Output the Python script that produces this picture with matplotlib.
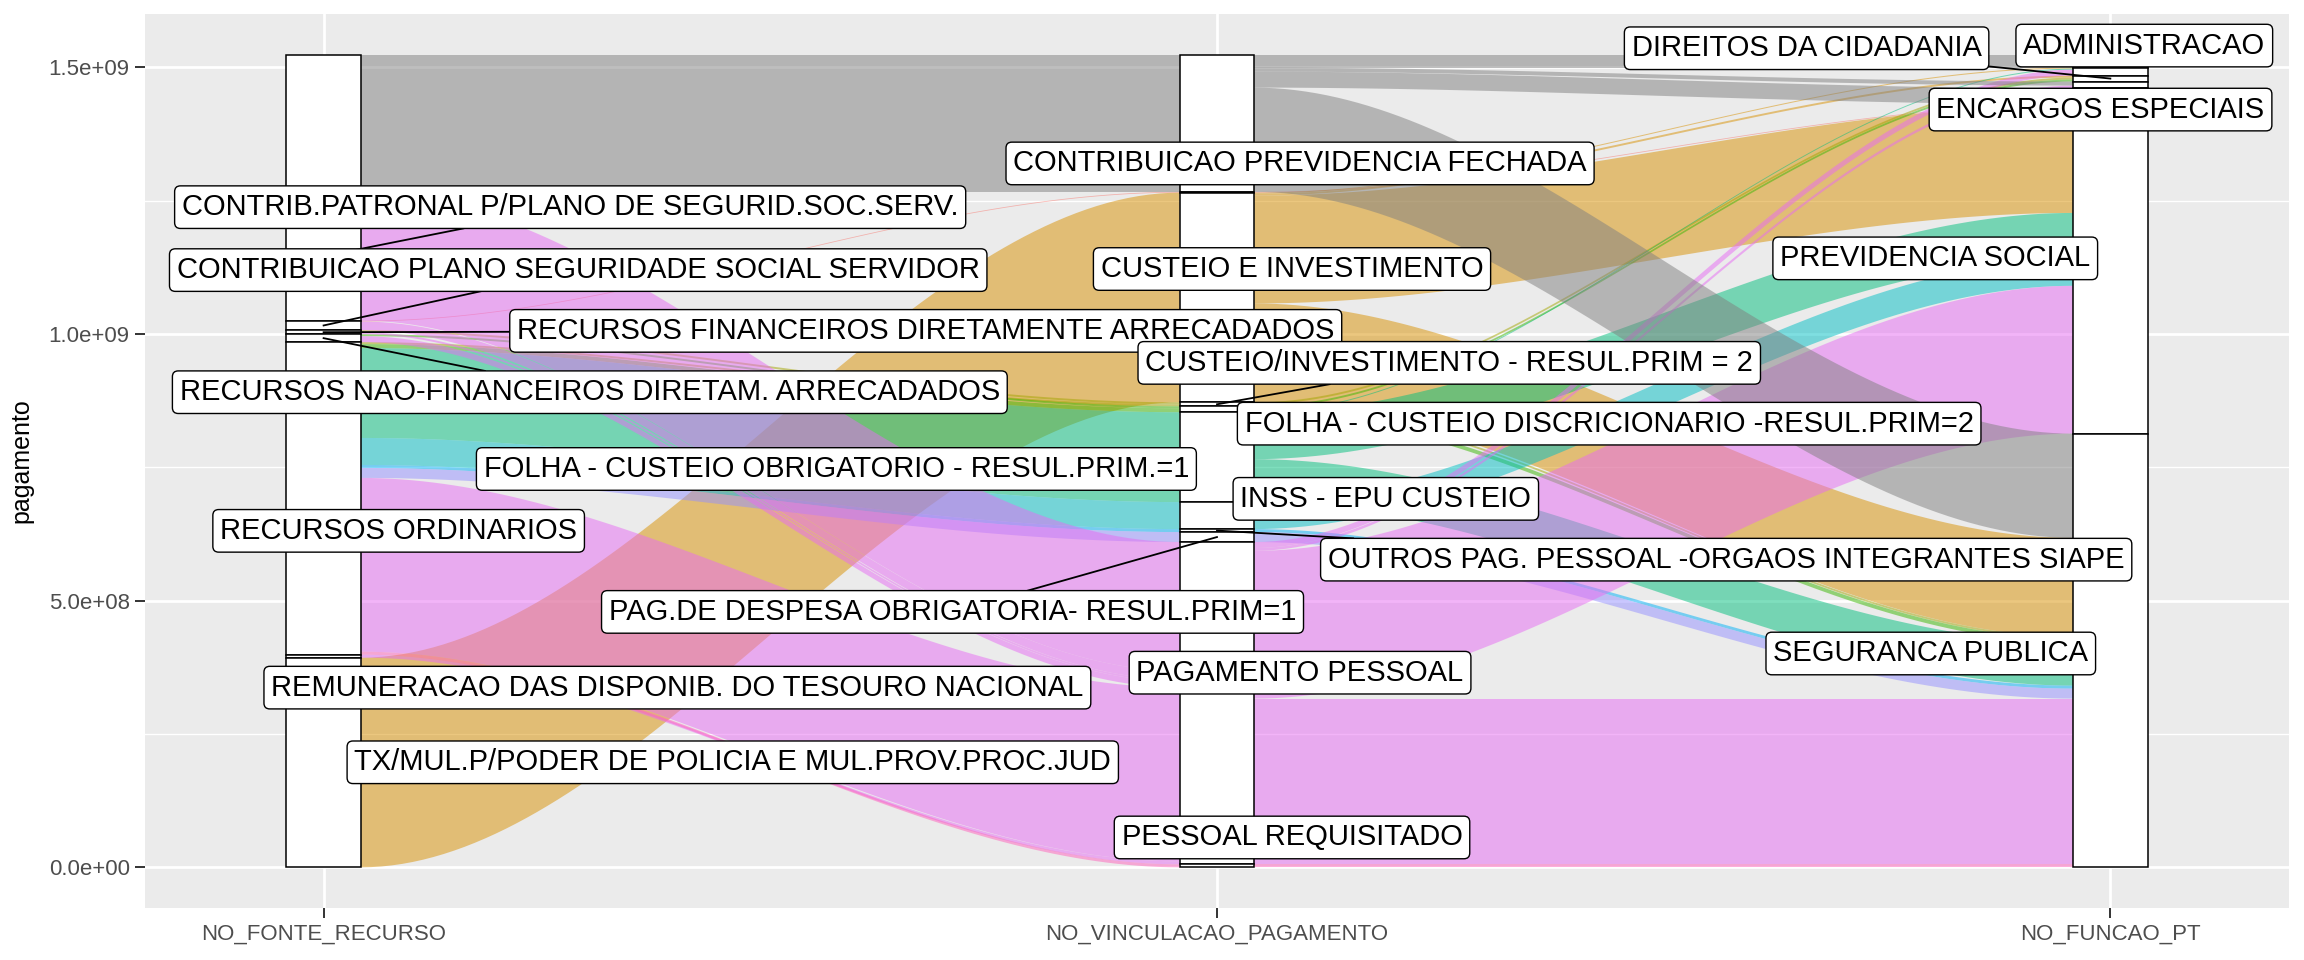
# Alluvial plot of pagamento by fonte / vinculacao / funcao (ggalluvial style)
import numpy as np
import matplotlib.pyplot as plt
from matplotlib.patches import Polygon, Rectangle

plt.rcParams['font.family'] = ['Liberation Sans', 'DejaVu Sans']

axis_names = ['NO_FONTE_RECURSO', 'NO_VINCULACAO_PAGAMENTO', 'NO_FUNCAO_PT']

# strata of each axis, top to bottom ('NA' is the unlabelled stratum)
fonte_levels = ['NA',
                'CONTRIB.PATRONAL P/PLANO DE SEGURID.SOC.SERV.',
                'CONTRIBUICAO PLANO SEGURIDADE SOCIAL SERVIDOR',
                'RECURSOS FINANCEIROS DIRETAMENTE ARRECADADOS',
                'RECURSOS NAO-FINANCEIROS DIRETAM. ARRECADADOS',
                'RECURSOS ORDINARIOS',
                'REMUNERACAO DAS DISPONIB. DO TESOURO NACIONAL',
                'TX/MUL.P/PODER DE POLICIA E MUL.PROV.PROC.JUD']
vinc_levels = ['NA',
               'CONTRIBUICAO PREVIDENCIA FECHADA',
               'CUSTEIO E INVESTIMENTO',
               'CUSTEIO/INVESTIMENTO - RESUL.PRIM = 2',
               'FOLHA - CUSTEIO DISCRICIONARIO -RESUL.PRIM=2',
               'FOLHA - CUSTEIO OBRIGATORIO - RESUL.PRIM.=1',
               'INSS - EPU CUSTEIO',
               'OUTROS PAG. PESSOAL -ORGAOS INTEGRANTES SIAPE',
               'PAG.DE DESPESA OBRIGATORIA- RESUL.PRIM=1',
               'PAGAMENTO PESSOAL',
               'PESSOAL REQUISITADO']
funcao_levels = ['NA', 'ADMINISTRACAO', 'DIREITOS DA CIDADANIA',
                 'ENCARGOS ESPECIAIS', 'PREVIDENCIA SOCIAL', 'SEGURANCA PUBLICA']

# one entry per alluvium (index into the level lists), pagamento in millions
fonte_idx  = [0, 0, 0, 0, 2, 7, 7, 7, 7, 3, 5, 4, 5, 5, 5, 5, 5, 5, 5, 5, 1, 2, 2, 3, 4, 6, 5, 5]
vinc_idx   = [0, 0, 0, 0, 1, 2, 2, 2, 2, 3, 3, 4, 4, 5, 5, 5, 6, 7, 8, 10, 9, 9, 9, 9, 9, 9, 9, 9]
funcao_idx = [0, 3, 4, 5, 4, 1, 2, 4, 5, 2, 5, 2, 5, 1, 4, 5, 4, 5, 5, 5, 4, 1, 3, 5, 5, 5, 4, 5]
pagamento_mi = [24.3, 7.5, 30.0, 195.5, 1.5, 1.9, 3.7, 202.2, 185.4, 3.7, 3.7, 3.7, 7.5, 1.9,
                86.1, 80.5, 50.6, 5.6, 18.7, 5.6, 241.6, 11.2, 5.2, 3.7, 11.2, 5.6, 35.6, 290.3]

# fill follows the vinculacao (NA -> grey)
palette = ['#F8766D', '#D89000', '#A3A500', '#39B600', '#00BF7D',
           '#00BFC4', '#00B0F6', '#9590FF', '#E76BF3', '#FF62BC']
na_color = '#7F7F7F'

# label centres (x in axis units, y in pagamento) -- layout of the repelled labels
label_xy = [
    [None, (1.276, 1.238e9), (1.285, 1.120e9), (1.674, 1.006e9), (1.298, 0.891e9),
     (1.084, 0.631e9), (1.396, 0.337e9), (1.458, 0.197e9)],
    [None, (2.093, 1.320e9), (2.084, 1.122e9), (2.260, 0.946e9), (2.439, 0.832e9),
     (1.574, 0.747e9), (2.189, 0.691e9), (2.570, 0.577e9), (1.704, 0.479e9),
     (2.093, 0.365e9), (2.084, 0.056e9)],
    [None, (3.038, 1.541e9), (2.660, 1.536e9), (2.989, 1.421e9), (2.804, 1.142e9),
     (2.799, 0.401e9)],
]
# labels whose leader segment is long enough to be drawn
leaders = {'CONTRIB.PATRONAL P/PLANO DE SEGURID.SOC.SERV.',
           'CONTRIBUICAO PLANO SEGURIDADE SOCIAL SERVIDOR',
           'RECURSOS FINANCEIROS DIRETAMENTE ARRECADADOS',
           'RECURSOS NAO-FINANCEIROS DIRETAM. ARRECADADOS',
           'CUSTEIO/INVESTIMENTO - RESUL.PRIM = 2',
           'OUTROS PAG. PESSOAL -ORGAOS INTEGRANTES SIAPE',
           'PAG.DE DESPESA OBRIGATORIA- RESUL.PRIM=1',
           'DIREITOS DA CIDADANIA'}

values = np.array(pagamento_mi) * 1e6
cols = [np.array(fonte_idx), np.array(vinc_idx), np.array(funcao_idx)]
levels = [fonte_levels, vinc_levels, funcao_levels]
total = values.sum()
w = 1 / 12          # stratum width

# stack strata: first level on top
strata = []
for a in range(3):
    sizes = np.array([values[cols[a] == k].sum() for k in range(len(levels[a]))])
    tops = total - np.concatenate([[0], np.cumsum(sizes)[:-1]])
    strata.append([(t - s, t) for t, s in zip(tops, sizes)])

fig = plt.figure(figsize=(23.04, 9.6), dpi=100)
ax = fig.add_axes([0.0629, 0.0542, 0.9306, 0.9312])
ax.set_facecolor('#EBEBEB')
for s in ax.spines.values():
    s.set_visible(False)


def smooth(u):
    return 3 * u ** 2 - 2 * u ** 3


# flows between neighbouring axes, ordered to avoid crossings
flow_polys = []
for a in range(2):
    b = a + 1
    pairs = {}
    for i in range(len(values)):
        key = (cols[a][i], cols[b][i])
        pairs[key] = pairs.get(key, 0) + values[i]
    left_top = {k: strata[a][k][1] for k in range(len(levels[a]))}
    right_top = {k: strata[b][k][1] for k in range(len(levels[b]))}
    left_pos, right_pos = {}, {}
    for key in sorted(pairs, key=lambda k: (k[0], k[1])):
        v = pairs[key]
        left_pos[key] = (left_top[key[0]], left_top[key[0]] - v)
        left_top[key[0]] -= v
    for key in sorted(pairs, key=lambda k: (k[1], k[0])):
        v = pairs[key]
        right_pos[key] = (right_top[key[1]], right_top[key[1]] - v)
        right_top[key[1]] -= v
    x0, x1 = a + 1 + w / 2, b + 1 - w / 2
    u = np.linspace(0, 1, 80)
    xs = x0 + u * (x1 - x0)
    for key in pairs:
        vi = key[1] if a == 0 else key[0]
        (lt, lb), (rt, rb) = left_pos[key], right_pos[key]
        ytop = lt + (rt - lt) * smooth(u)
        ybot = lb + (rb - lb) * smooth(u)
        pts = np.column_stack([np.concatenate([xs, xs[::-1]]),
                               np.concatenate([ytop, ybot[::-1]])])
        color = palette[vi - 1] if vi > 0 else na_color
        flow_polys.append((vi == 0, vi, pts, color))

for _, _, pts, color in sorted(flow_polys, key=lambda f: (f[0], f[1])):
    ax.add_patch(Polygon(pts, closed=True, facecolor=color, alpha=0.5,
                         edgecolor='none', zorder=2))

# strata boxes
for a in range(3):
    for lo, hi in strata[a]:
        ax.add_patch(Rectangle((a + 1 - w / 2, lo), w, hi - lo, facecolor='white',
                               edgecolor='black', linewidth=1.1, zorder=3))

ax.set_xlim(0.8, 3.2)
ax.set_ylim(-0.05 * total, 1.05 * total)
ax.set_xticks([1, 2, 3])
ax.set_xticklabels(axis_names)
yt = [0, 5e8, 1e9, 1.5e9]
ax.set_yticks(yt)
ax.set_yticklabels([f'{v:.1e}' for v in yt])
ax.set_yticks([2.5e8, 7.5e8, 1.25e9], minor=True)
ax.grid(which='major', color='white', linewidth=2.0, zorder=0)
ax.grid(which='minor', axis='y', color='white', linewidth=1.0, zorder=0)
ax.set_axisbelow(True)
ax.tick_params(axis='both', which='major', length=7, width=1.4, color='#333333',
               labelcolor='#4D4D4D', labelsize=16, pad=4)
ax.tick_params(axis='y', which='minor', length=0)
ax.set_ylabel('pagamento', fontsize=18, labelpad=11)

# labels
texts, points = [], []
for a in range(3):
    for k, name in enumerate(levels[a]):
        pos = label_xy[a][k]
        if pos is None:
            continue
        t = ax.text(pos[0], pos[1], name, ha='center', va='center', fontsize=21,
                    zorder=6,
                    bbox=dict(boxstyle='round,pad=0.25,rounding_size=0.2',
                              facecolor='white', edgecolor='black', linewidth=1.0))
        lo, hi = strata[a][k]
        if name in leaders:
            texts.append(t)
            points.append((a + 1, (lo + hi) / 2))

# leader segments from label box to stratum centre
fig.canvas.draw()
renderer = fig.canvas.get_renderer()
inv = ax.transData.inverted()
for t, p in zip(texts, points):
    bb = t.get_bbox_patch().get_window_extent(renderer)
    px, py = ax.transData.transform(p)
    cx, cy = (bb.x0 + bb.x1) / 2, (bb.y0 + bb.y1) / 2
    dx, dy = px - cx, py - cy
    ts = []
    if dx != 0:
        ts.append(((bb.x1 if dx > 0 else bb.x0) - cx) / dx)
    if dy != 0:
        ts.append(((bb.y1 if dy > 0 else bb.y0) - cy) / dy)
    tt = min(tv for tv in ts if tv > 0)
    sx, sy = cx + tt * dx, cy + tt * dy
    (dsx, dsy), (dpx, dpy) = inv.transform((sx, sy)), inv.transform((px, py))
    ax.plot([dsx, dpx], [dsy, dpy], color='black', linewidth=1.3, zorder=4)

fig.savefig('out.png', dpi=100)
